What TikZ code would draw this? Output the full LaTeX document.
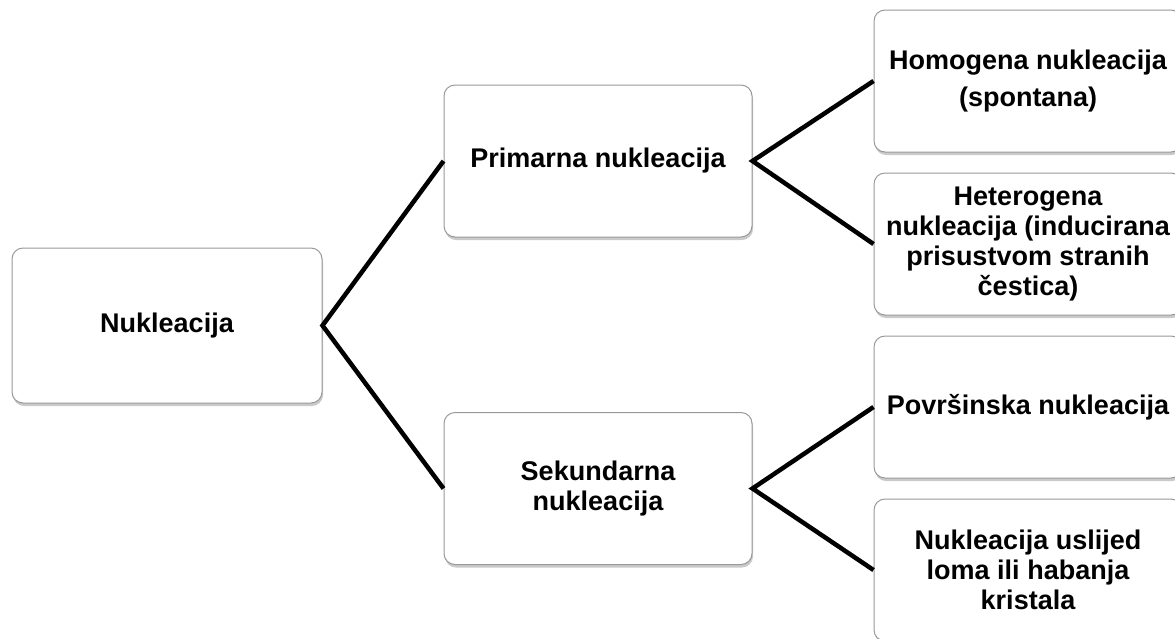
\documentclass[tikz,border=0pt]{standalone}
\usepackage{fontspec}
\setmainfont{Liberation Sans}
\usetikzlibrary{shadows}

\colorlet{box edge}{black!40}
\colorlet{box shade}{black!60}
\tikzset{
  box/.style={draw=box edge, fill=white, line width=1pt, rounded corners=11pt,
    drop shadow={shadow xshift=1pt, shadow yshift=-3pt, fill=box shade, opacity=0.35},
    align=center, inner sep=0pt, font=\bfseries\fontsize{27}{30}\selectfont},
  root box/.style={box, minimum width=310pt, minimum height=155pt},
  mid box/.style={box, minimum width=308pt, minimum height=152pt},
  leaf box/.style={box, minimum width=308pt, minimum height=142pt}
  }
\tikzstyle{edge} = [draw, line width=4.5pt, -, miter limit=4]

\begin{document}
\begin{tikzpicture}[x=1pt, y=-1pt]
    \useasboundingbox (0,0) rectangle (1175,638);

    % The root and the two kinds
    \node[root box] (root) at (167,325.5) {Nukleacija};
    \foreach \pos/\name/\text in {{(598,161)/prim/Primarna nukleacija},
                                  {(598,488.5)/sek/Sekundarna\\nukleacija}} {
      \node[mid box] (\name) at \pos {\text};
    }

    % the leaves
    \node[leaf box] (homo) at (1028,81) {Homogena nukleacija\\[7pt](spontana)};
    \foreach \pos/\name/\text in {{(1028,244)/hetero/Heterogena\\nukleacija (inducirana\\prisustvom stranih\\čestica)},
                                  {(1028,407)/povrs/Površinska nukleacija},
                                  {(1028,570)/lom/Nukleacija uslijed\\loma ili habanja\\kristala}} {
      \node[leaf box] (\name) at \pos {\text};
    }

    % The connections between them
    \foreach \upper/\joint/\lower in {prim.west/root.east/sek.west,
                                      homo.west/prim.east/hetero.west,
                                      povrs.west/sek.east/lom.west} {
      \path[edge] (\upper) -- (\joint) -- (\lower);
    }

\end{tikzpicture}
\end{document}
